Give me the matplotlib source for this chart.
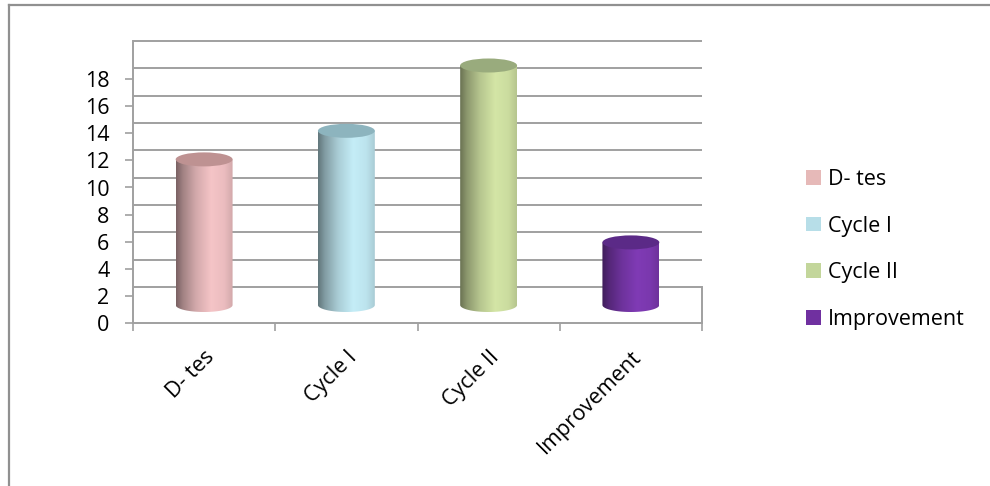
import numpy as np
import matplotlib
matplotlib.use("Agg")
import matplotlib.pyplot as plt
from matplotlib.patches import Ellipse, PathPatch, Patch
from matplotlib.path import Path
from matplotlib.lines import Line2D

# ---- data ----
categories = ["D- tes", "Cycle I", "Cycle II", "Improvement"]
values = [10.7, 12.8, 17.6, 4.6]
y_ticks = [0, 2, 4, 6, 8, 10, 12, 14, 16, 18]
back_grid = [0, 2, 4, 6, 8, 10, 12, 14, 16, 18]

legend_colors = ["#E6B9B8", "#B7DEE8", "#C3D69B", "#7030A0"]
body_light = [(0.96, 0.77, 0.78), (0.77, 0.93, 0.97), (0.83, 0.90, 0.65), (0.50, 0.23, 0.71)]
top_colors = ["#BE9292", "#8DB4BE", "#99AB7D", "#5B2A87"]

plt.rcParams['font.family'] = ['Open Sans', 'DejaVu Sans']
FS = 15.5
GRID = "#A0A0A0"

W, H = 990, 486
fig = plt.figure(figsize=(W / 100, H / 100), dpi=100)

# outer frame (top and left)
fig.add_artist(Line2D([9 / W, 1.0], [1 - 5 / H, 1 - 5 / H], color="#909090", lw=1.6))
fig.add_artist(Line2D([9 / W, 9 / W], [0, 1 - 5 / H], color="#909090", lw=1.6))

px_front = 13.55          # pixels per unit on front axis
y_front0, y_top = 323, 41
x_left, x_right = 133, 702
ymax = (y_front0 - y_top) / px_front
ax = fig.add_axes([x_left / W, 1 - y_front0 / H, (x_right - x_left) / W, (y_front0 - y_top) / H])
ax.set_facecolor("none")

n = len(categories)
depth = 36 / px_front                            # back wall offset
back_scale = (ymax - depth) / back_grid[-1]      # scale on back wall
floor_mid = depth / 2
mid_scale = (back_scale + 1.0) / 2               # scale at mid depth

# back wall gridlines
for g in back_grid:
    yy = depth + g * back_scale
    ax.plot([0, n], [yy, yy], color=GRID, lw=1.4, zorder=1, solid_capstyle="butt", clip_on=False)
# floor right edge
ax.plot([n, n], [0, depth], color=GRID, lw=1.4, zorder=1, clip_on=False)

# shading profile across cylinder
prof_t = [0.0, 0.12, 0.35, 0.62, 0.85, 1.0]
prof_f = [0.50, 0.66, 0.86, 1.00, 0.96, 0.86]
N = 120
tt = np.linspace(0, 1, N)
shade = np.interp(tt, prof_t, prof_f)

rx = 0.2
ry = 7 / px_front
for i, v in enumerate(values):
    xc = i + 0.5
    x0, x1 = xc - rx, xc + rx
    yb, yt = floor_mid, floor_mid + v * mid_scale
    th = np.linspace(0, -np.pi, 60)
    verts = [(x0, yt), (x1, yt), (x1, yb)] + \
            list(zip(xc + rx * np.cos(th), yb + ry * np.sin(th))) + [(x0, yb), (x0, yt)]
    codes = [Path.MOVETO] + [Path.LINETO] * (len(verts) - 2) + [Path.CLOSEPOLY]
    clip = PathPatch(Path(verts, codes), transform=ax.transData, facecolor="none", edgecolor="none")
    ax.add_patch(clip)
    col = np.array(body_light[i])
    img = np.clip(col[None, None, :] * shade[None, :, None], 0, 1)
    im = ax.imshow(img, extent=(x0, x1, yb - ry, yt), aspect="auto", zorder=3,
                   interpolation="bilinear", origin="lower")
    im.set_clip_path(clip)
    ax.add_patch(Ellipse((xc, yt), 2 * rx, 2 * ry, facecolor=top_colors[i], edgecolor="none", zorder=4))

ax.set_xlim(0, n)
ax.set_ylim(0, ymax)

for s in ["top", "right"]:
    ax.spines[s].set_visible(False)
for s in ["left", "bottom"]:
    ax.spines[s].set_color(GRID)
    ax.spines[s].set_linewidth(1.4)

ax.set_yticks(y_ticks)
ax.set_yticklabels([str(t) for t in y_ticks], fontsize=FS)
ax.tick_params(axis="y", direction="out", length=6, width=1.2, color=GRID, pad=11)

ax.set_xticks(range(n + 1))
ax.set_xticklabels([])
ax.tick_params(axis="x", which="major", direction="out", length=6, width=1.2, color=GRID)
ax.set_xticks([i + 0.5 for i in range(n)], minor=True)
ax.set_xticklabels(categories, minor=True, fontsize=FS, rotation=45, ha="right",
                   rotation_mode="anchor")
ax.tick_params(axis="x", which="minor", length=0, pad=17)

handles = [Patch(facecolor=c, edgecolor="none") for c in legend_colors]
fig.legend(handles, categories, loc="upper left", bbox_to_anchor=(806 / W, 1 - 169 / H),
           frameon=False, fontsize=FS, handlelength=0.68, handleheight=0.68,
           handletextpad=0.35, labelspacing=1.19, borderpad=0, borderaxespad=0)

fig.savefig("out.png", dpi=100)
